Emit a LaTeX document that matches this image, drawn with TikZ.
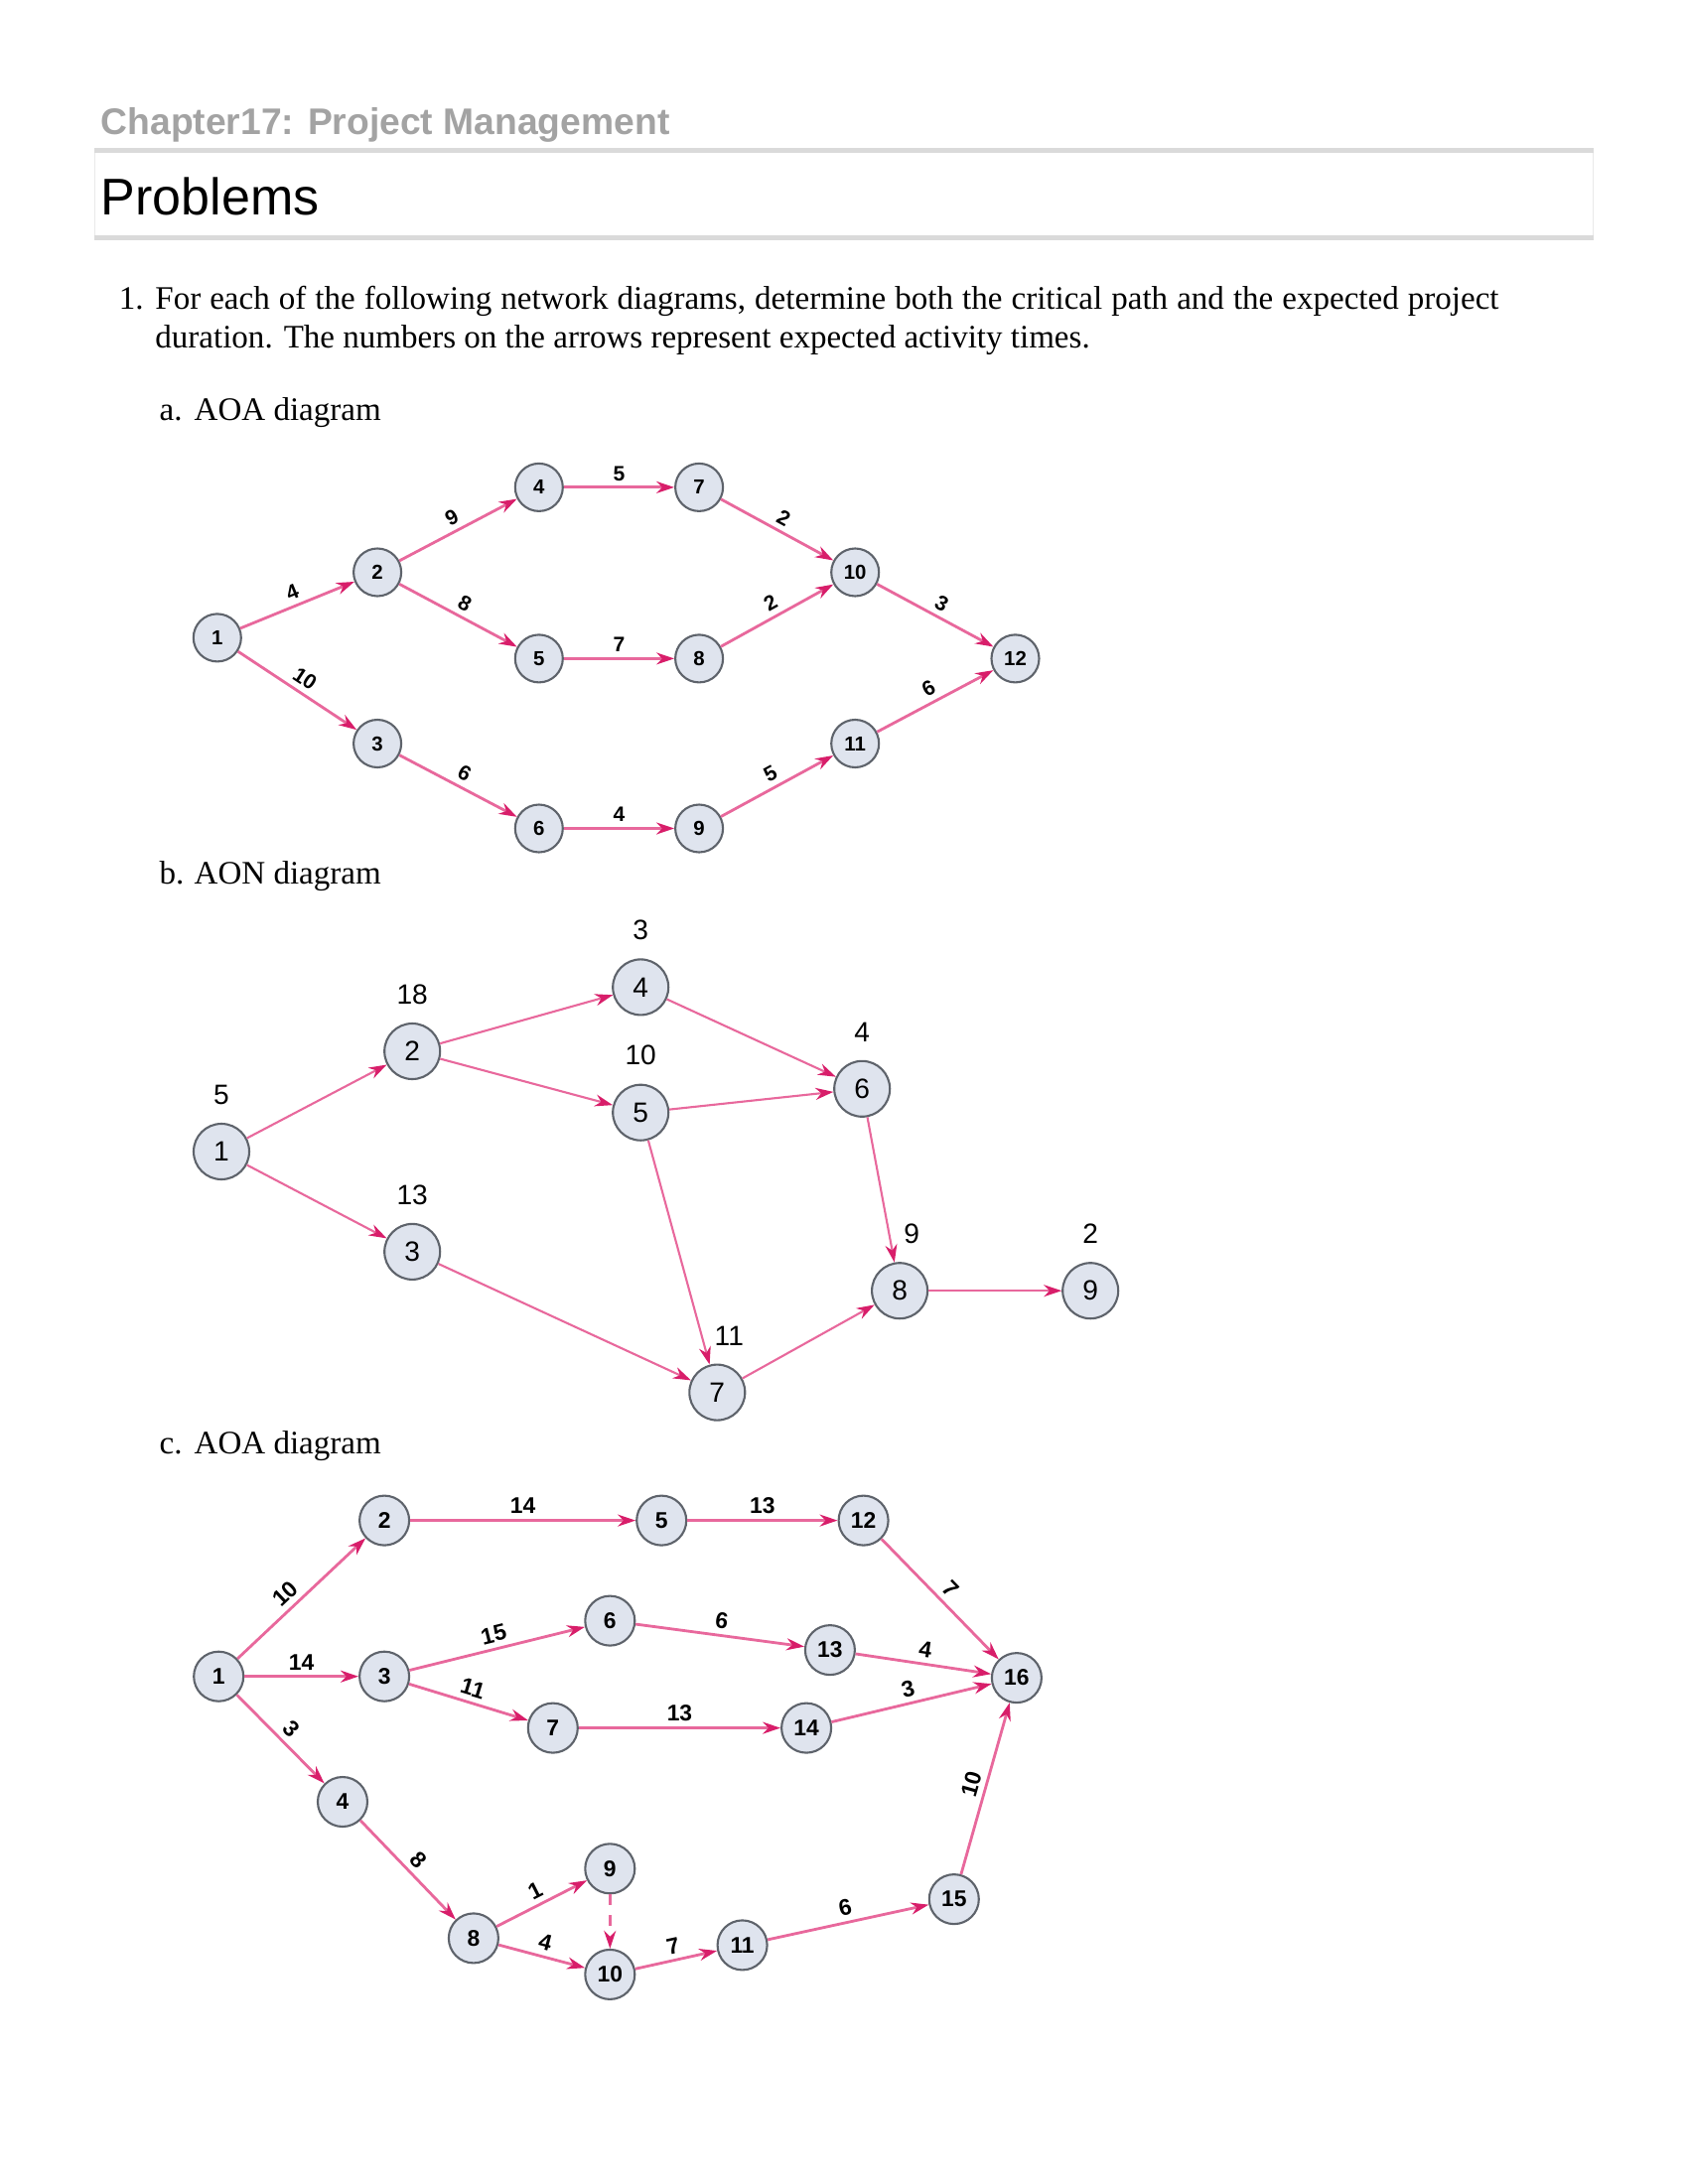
\documentclass[tikz,border=0pt]{standalone}
\usepackage{fontspec}
\setmainfont{Liberation Serif}
\setsansfont{Liberation Sans}
\usetikzlibrary{arrows.meta}
\definecolor{edge}{HTML}{E8689C}
\definecolor{tip}{HTML}{D81E6A}
\definecolor{evfill}{HTML}{DFE4EE}
\definecolor{evline}{HTML}{5E636B}
\definecolor{headgray}{HTML}{A3A3A3}
\definecolor{rulegray}{HTML}{DADADA}

\begin{document}
\begin{tikzpicture}[
    ev/.style={circle, draw=evline, fill=evfill, line width=0.6pt,
               inner sep=0pt, minimum size=#1},
    eva/.style={ev=0.48cm, font=\sffamily\bfseries\fontsize{5.8}{6}\selectfont},
    evb/.style={ev=0.56cm, font=\sffamily\fontsize{8}{9}\selectfont},
    evc/.style={ev=0.50cm, font=\sffamily\bfseries\fontsize{6.5}{7}\selectfont},
    act/.style={draw=edge, line width=#1,
                -{Stealth[length=1.8mm, width=1.2mm, color=tip]}},
    act/.default=0.8pt,
    num/.style={midway, above, sloped, inner sep=1.5pt,
                font=\sffamily\bfseries\fontsize{#1}{#1}\selectfont},
    dur/.style={font=\sffamily\fontsize{8}{9}\selectfont, label distance=0.6mm},
    txt/.style={anchor=base west, inner sep=0pt, font=\fontsize{9.4}{11}\selectfont},
]
\useasboundingbox (0,0) rectangle (17,-22);

% Cabecera
\node[anchor=base west, inner sep=0pt, text=headgray,
      font=\sffamily\bfseries\fontsize{10.6}{12}\selectfont] (chap) at (1.01, -1.36)
      {Chapter17: Project Management};
\draw[draw=rulegray!60, fill=white, line width=0.4pt] (0.954,-1.515) rectangle (16.046,-2.398);
\draw[rulegray, line width=1.4pt] (0.954,-1.515) -- (16.046,-1.515);
\draw[rulegray, line width=1.4pt] (0.954,-2.398) -- (16.046,-2.398);
\node[anchor=base west, inner sep=0pt,
      font=\sffamily\fontsize{14.8}{16}\selectfont] (prob) at (1.01, -2.17) {Problems};

% Enunciado
\node[txt] (n1) at (1.192, -3.114) {1.};
\node[txt] (q1) at (1.557, -3.114) {\makebox[13.53cm][s]{For each of the following network diagrams, determine both the critical path and the expected project}};
\node[txt] (q2) at (1.557, -3.507) {duration. The numbers on the arrows represent expected activity times.};

\node[txt] (la) at (1.599, -4.236) {a.};
\node[txt] (ta) at (1.950, -4.236) {AOA diagram};
\node[txt] (lb) at (1.599, -8.907) {b.};
\node[txt] (tb) at (1.950, -8.907) {AON diagram};
\node[txt] (lc) at (1.599, -14.643) {c.};
\node[txt] (tc) at (1.950, -14.643) {AOA diagram};

% a. AOA
\node[eva] (a1)  at (2.188, -6.424) {1};
\node[eva] (a2)  at (3.801, -5.765) {2};
\node[eva] (a3)  at (3.801, -7.490) {3};
\node[eva] (a4)  at (5.428, -4.909) {4};
\node[eva] (a5)  at (5.428, -6.634) {5};
\node[eva] (a6)  at (5.428, -8.345) {6};
\node[eva] (a7)  at (7.041, -4.909) {7};
\node[eva] (a8)  at (7.041, -6.634) {8};
\node[eva] (a9)  at (7.041, -8.345) {9};
\node[eva] (a10) at (8.612, -5.765) {10};
\node[eva] (a11) at (8.612, -7.490) {11};
\node[eva] (a12) at (10.225, -6.634) {12};

\draw[act] (a1) -- (a2) node[num=6] {4};
\draw[act] (a1) -- (a3) node[num=6] {10};
\draw[act] (a2) -- (a4) node[num=6] {9};
\draw[act] (a2) -- (a5) node[num=6] {8};
\draw[act] (a3) -- (a6) node[num=6] {6};
\draw[act] (a4) -- (a7) node[num=6] {5};
\draw[act] (a5) -- (a8) node[num=6] {7};
\draw[act] (a6) -- (a9) node[num=6] {4};
\draw[act] (a7) -- (a10) node[num=6] {2};
\draw[act] (a8) -- (a10) node[num=6] {2};
\draw[act] (a9) -- (a11) node[num=6] {5};
\draw[act] (a10) -- (a12) node[num=6] {3};
\draw[act] (a11) -- (a12) node[num=6] {6};

% b. AON
\node[evb, label={[dur]above:5}]  (b1) at (2.230, -11.600) {1};
\node[evb, label={[dur]above:18}] (b2) at (4.152, -10.590) {2};
\node[evb, label={[dur]above:13}] (b3) at (4.152, -12.609) {3};
\node[evb, label={[dur]above:3}]  (b4) at (6.452, -9.944) {4};
\node[evb, label={[dur]above:10}] (b5) at (6.452, -11.207) {5};
\node[evb, label={[dur]above:4}]  (b6) at (8.682, -10.968) {6};
\node[evb, label={[dur, xshift=1.2mm]above:11}] (b7) at (7.223, -14.026) {7};
\node[evb, label={[dur, xshift=1.2mm]above:9}]  (b8) at (9.061, -13.002) {8};
\node[evb, label={[dur]above:2}]  (b9) at (10.982, -13.002) {9};

\draw[act=0.6pt] (b1) -- (b2);
\draw[act=0.6pt] (b1) -- (b3);
\draw[act=0.6pt] (b2) -- (b4);
\draw[act=0.6pt] (b2) -- (b5);
\draw[act=0.6pt] (b4) -- (b6);
\draw[act=0.6pt] (b5) -- (b6);
\draw[act=0.6pt] (b5) -- (b7);
\draw[act=0.6pt] (b3) -- (b7);
\draw[act=0.6pt] (b6) -- (b8);
\draw[act=0.6pt] (b7) -- (b8);
\draw[act=0.6pt] (b8) -- (b9);

% c. AOA
\node[evc] (c1)  at (2.202, -16.887) {1};
\node[evc] (c2)  at (3.871, -15.316) {2};
\node[evc] (c3)  at (3.871, -16.887) {3};
\node[evc] (c4)  at (3.450, -18.150) {4};
\node[evc] (c5)  at (6.662, -15.316) {5};
\node[evc] (c6)  at (6.143, -16.326) {6};
\node[evc] (c7)  at (5.568, -17.406) {7};
\node[evc] (c8)  at (4.769, -19.524) {8};
\node[evc] (c9)  at (6.143, -18.823) {9};
\node[evc] (c10) at (6.143, -19.889) {10};
\node[evc] (c11) at (7.476, -19.594) {11};
\node[evc] (c12) at (8.696, -15.316) {12};
\node[evc] (c13) at (8.359, -16.621) {13};
\node[evc] (c14) at (8.121, -17.406) {14};
\node[evc] (c15) at (9.608, -19.131) {15};
\node[evc] (c16) at (10.239, -16.901) {16};

\draw[act] (c1) -- (c2) node[num=6.5, pos=0.45] {10};
\draw[act] (c1) -- (c3) node[num=6.5] {14};
\draw[act] (c1) -- (c4) node[num=6.5] {3};
\draw[act] (c2) -- (c5) node[num=6.5] {14};
\draw[act] (c5) -- (c12) node[num=6.5] {13};
\draw[act] (c3) -- (c6) node[num=6.5] {15};
\draw[act] (c3) -- (c7) node[num=6.5] {11};
\draw[act] (c6) -- (c13) node[num=6.5] {6};
\draw[act] (c7) -- (c14) node[num=6.5] {13};
\draw[act] (c12) -- (c16) node[num=6.5] {7};
\draw[act] (c13) -- (c16) node[num=6.5] {4};
\draw[act] (c14) -- (c16) node[num=6.5] {3};
\draw[act] (c15) -- (c16) node[num=6.5] {10};
\draw[act] (c4) -- (c8) node[num=6.5] {8};
\draw[act] (c8) -- (c9) node[num=6.5] {1};
\draw[act] (c8) -- (c10) node[num=6.5] {4};
\draw[act, dashed] (c9) -- (c10);
\draw[act] (c10) -- (c11) node[num=6.5] {7};
\draw[act] (c11) -- (c15) node[num=6.5] {6};

\end{tikzpicture}
\end{document}
